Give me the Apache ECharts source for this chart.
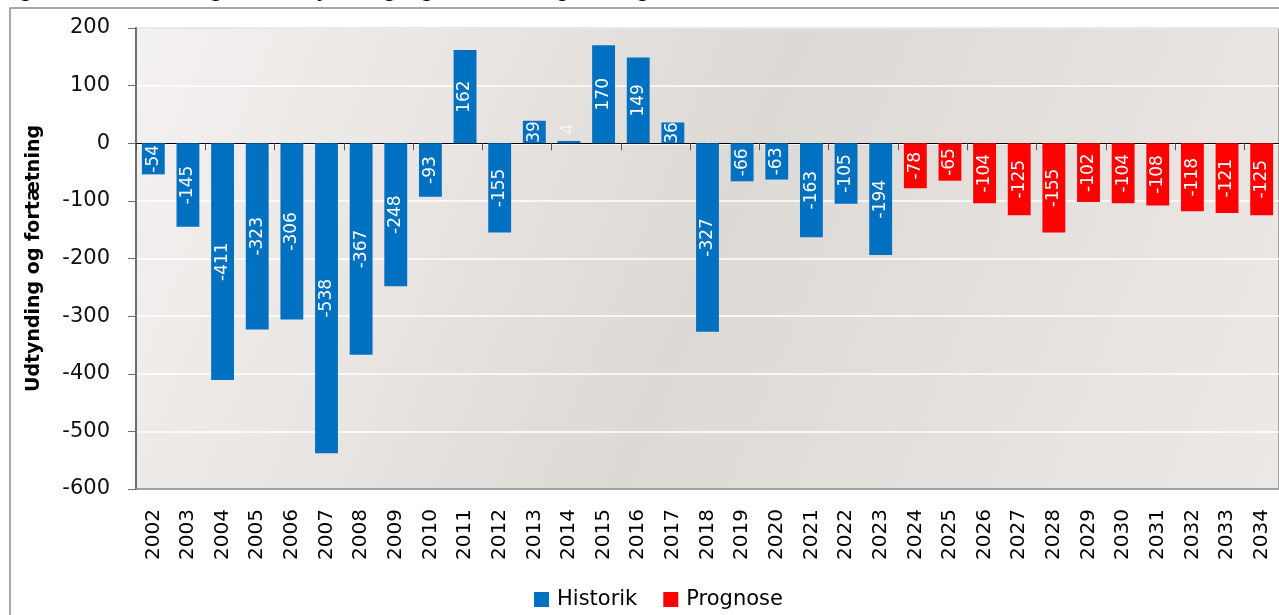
<!DOCTYPE html>
<html>
<head>
<meta charset="utf-8">
<script src="https://cdn.jsdelivr.net/npm/echarts@6/dist/echarts.min.js"></script>
<style>
  html, body { margin: 0; padding: 0; background: #fff; }
  #chart { width: 1279px; height: 615px; }
</style>
</head>
<body>
<div id="chart"></div>
<script>
var aar = ['2002','2003','2004','2005','2006','2007','2008','2009','2010','2011','2012',
           '2013','2014','2015','2016','2017','2018','2019','2020','2021','2022','2023',
           '2024','2025','2026','2027','2028','2029','2030','2031','2032','2033','2034'];
var historik = [-54, -145, -411, -323, -306, -538, -367, -248, -93, 162, -155,
                39, 4, 170, 149, 36, -327, -66, -63, -163, -105, -194];
var prognose = [-78, -65, -104, -125, -155, -102, -104, -108, -118, -121, -125];
var yTicks = { min: -600, max: 200, step: 100 };

// fyld op så begge serier har en værdi pr. år
function byg(vals, start) {
     var out = [];
     for (var i = 0; i < aar.length; i++) {
          var v = (i >= start && i - start < vals.length) ? vals[i - start] : null;
          if (v !== null && Math.abs(v) < 10) {
               // små søjler: etiket over søjlen
               out.push({ value: v, label: { offset: [13, 0], color: '#f4f4f4' } });
          } else {
               out.push(v);
          }
     }
     return out;
}

var font = 'DejaVu Sans';
var labelStyle = {
     show: true,
     position: 'inside',
     rotate: 90,
     color: '#fff',
     fontFamily: font,
     fontSize: 17
};

var chart = echarts.init(document.getElementById('chart'));
chart.setOption({
     backgroundColor: '#fff',
     animation: false,
     graphic: [{
          type: 'rect',
          shape: { x: 10, y: 8, width: 1320, height: 700 },
          style: { fill: 'none', stroke: '#8c8c8c', lineWidth: 1.5 },
          z: -1
     }, {
          type: 'text',
          left: 0,
          top: -22,
          style: {
               text: 'Figur 10: Udviklingen i udtynding og fortætning i boligerne',
               fontFamily: font,
               fontSize: 24,
               fill: '#000'
          }
     }],
     legend: {
          left: 529,
          top: 584,
          icon: 'rect',
          itemWidth: 15,
          itemHeight: 15,
          itemGap: 26,
          textStyle: { fontFamily: font, fontSize: 21, color: '#000', padding: [0, 0, 0, 3] },
          data: ['Historik', 'Prognose']
     },
     grid: {
          left: 136,
          right: -2,
          top: 28,
          bottom: 126,
          show: true,
          borderColor: '#8a8a8a',
          borderWidth: 1.5,
          backgroundColor: {
               type: 'linear', x: 0, y: 0, x2: 1, y2: 1,
               colorStops: [
                    { offset: 0, color: '#f4f2f0' },
                    { offset: 0.5, color: '#ddd9d5' },
                    { offset: 1, color: '#ece9e6' }
               ]
          }
     },
     xAxis: [{
          type: 'category',
          data: aar,
          axisLine: { onZero: false, lineStyle: { color: '#8a8a8a', width: 1.5 } },
          axisTick: { show: false },
          axisLabel: {
               rotate: 90,
               interval: 0,
               margin: 20,
               fontFamily: font,
               fontSize: 20,
               color: '#000'
          }
     }, {
          type: 'category',
          data: aar,
          position: 'top',
          axisLine: { onZero: true, lineStyle: { color: '#000', width: 1 } },
          axisTick: { show: true, inside: true, length: 7, lineStyle: { color: '#555' } },
          axisLabel: { show: false }
     }],
     yAxis: [{
          type: 'value',
          min: yTicks.min,
          max: yTicks.max,
          interval: yTicks.step,
          name: 'Udtynding og fortætning',
          nameLocation: 'middle',
          nameGap: 92,
          nameTextStyle: { fontFamily: font, fontSize: 19, fontWeight: 'bold', color: '#000' },
          axisLine: { show: true, lineStyle: { color: '#6e6e6e', width: 2 } },
          axisTick: { show: true, length: 8, lineStyle: { color: '#6e6e6e' } },
          axisLabel: { margin: 26, fontFamily: font, fontSize: 21, color: '#111' },
          splitLine: { lineStyle: { color: '#fff', width: 1.5 } }
     }],
     series: [{
          name: 'Historik',
          type: 'bar',
          stack: 'a',
          barCategoryGap: '34%',
          itemStyle: { color: '#0070c0' },
          label: labelStyle,
          data: byg(historik, 0)
     }, {
          name: 'Prognose',
          type: 'bar',
          stack: 'a',
          barCategoryGap: '34%',
          itemStyle: { color: '#ff0000' },
          label: labelStyle,
          data: byg(prognose, historik.length)
     }]
});
</script>
</body>
</html>
